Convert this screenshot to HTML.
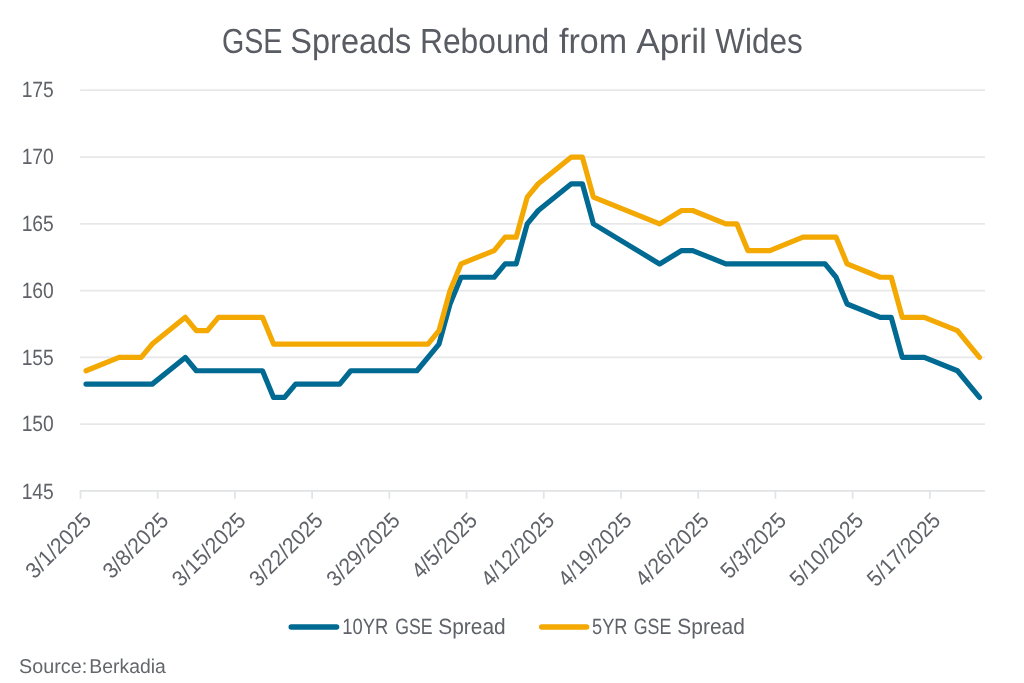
<!DOCTYPE html>
<html lang="en">
<head>
<meta charset="utf-8">
<title>GSE Spreads Rebound from April Wides</title>
<style>
html,body{margin:0;padding:0;background:#fff;}
body{width:1024px;height:683px;overflow:hidden;}
svg{display:block;will-change:transform;}
svg text{font-family:"Liberation Sans", sans-serif;fill:#5f6268;text-rendering:geometricPrecision;}
</style>
</head>
<body>
<svg width="1024" height="683" viewBox="0 0 1024 683">
<rect x="0" y="0" width="1024" height="683" fill="#ffffff"/>
<g font-size="34.80" style="fill:#595c62">
<text x="221.96" y="52.75" textLength="60.54" lengthAdjust="spacingAndGlyphs" style="fill:#595c62">GSE</text>
<text x="290.37" y="52.75" textLength="120.98" lengthAdjust="spacingAndGlyphs" style="fill:#595c62">Spreads</text>
<text x="419.93" y="52.75" textLength="129.16" lengthAdjust="spacingAndGlyphs" style="fill:#595c62">Rebound</text>
<text x="558.95" y="52.75" textLength="68.19" lengthAdjust="spacingAndGlyphs" style="fill:#595c62">from</text>
<text x="636.34" y="52.75" textLength="70.63" lengthAdjust="spacingAndGlyphs" style="fill:#595c62">April</text>
<text x="715.29" y="52.75" textLength="87.51" lengthAdjust="spacingAndGlyphs" style="fill:#595c62">Wides</text>
</g>
<g stroke="#e7e8ea" stroke-width="1.7" fill="none">
<line x1="80.1" y1="424.05" x2="985.0" y2="424.05"/>
<line x1="80.1" y1="357.40" x2="985.0" y2="357.40"/>
<line x1="80.1" y1="290.55" x2="985.0" y2="290.55"/>
<line x1="80.1" y1="223.80" x2="985.0" y2="223.80"/>
<line x1="80.1" y1="157.10" x2="985.0" y2="157.10"/>
<line x1="80.1" y1="90.10" x2="985.0" y2="90.10"/>
</g>
<g stroke="#e2e3e5" stroke-width="1.7" fill="none">
<line x1="79.7" y1="490.80" x2="985.0" y2="490.80"/>
<line x1="80.50" y1="490.80" x2="80.50" y2="498.80"/>
<line x1="157.71" y1="490.80" x2="157.71" y2="498.80"/>
<line x1="234.93" y1="490.80" x2="234.93" y2="498.80"/>
<line x1="312.14" y1="490.80" x2="312.14" y2="498.80"/>
<line x1="389.35" y1="490.80" x2="389.35" y2="498.80"/>
<line x1="466.57" y1="490.80" x2="466.57" y2="498.80"/>
<line x1="543.78" y1="490.80" x2="543.78" y2="498.80"/>
<line x1="620.99" y1="490.80" x2="620.99" y2="498.80"/>
<line x1="698.21" y1="490.80" x2="698.21" y2="498.80"/>
<line x1="775.42" y1="490.80" x2="775.42" y2="498.80"/>
<line x1="852.63" y1="490.80" x2="852.63" y2="498.80"/>
<line x1="929.85" y1="490.80" x2="929.85" y2="498.80"/>
</g>
<g font-size="22.10">
<text x="21.65" y="498.95" textLength="32.2" lengthAdjust="spacingAndGlyphs">145</text>
<text x="21.65" y="431.27" textLength="32.2" lengthAdjust="spacingAndGlyphs">150</text>
<text x="21.65" y="364.50" textLength="32.2" lengthAdjust="spacingAndGlyphs">155</text>
<text x="21.65" y="297.73" textLength="32.2" lengthAdjust="spacingAndGlyphs">160</text>
<text x="21.65" y="230.95" textLength="32.2" lengthAdjust="spacingAndGlyphs">165</text>
<text x="21.65" y="163.88" textLength="32.2" lengthAdjust="spacingAndGlyphs">170</text>
<text x="21.65" y="96.90" textLength="32.2" lengthAdjust="spacingAndGlyphs">175</text>
</g>
<g font-size="22.10" text-anchor="end">
<text transform="translate(92.50 521.80) rotate(-45)" x="0" y="0" textLength="82.0" lengthAdjust="spacingAndGlyphs">3/1/2025</text>
<text transform="translate(169.71 521.80) rotate(-45)" x="0" y="0" textLength="82.0" lengthAdjust="spacingAndGlyphs">3/8/2025</text>
<text transform="translate(246.93 521.80) rotate(-45)" x="0" y="0" textLength="93.2" lengthAdjust="spacingAndGlyphs">3/15/2025</text>
<text transform="translate(324.14 521.80) rotate(-45)" x="0" y="0" textLength="93.2" lengthAdjust="spacingAndGlyphs">3/22/2025</text>
<text transform="translate(401.35 521.80) rotate(-45)" x="0" y="0" textLength="93.2" lengthAdjust="spacingAndGlyphs">3/29/2025</text>
<text transform="translate(478.57 521.80) rotate(-45)" x="0" y="0" textLength="82.0" lengthAdjust="spacingAndGlyphs">4/5/2025</text>
<text transform="translate(555.78 521.80) rotate(-45)" x="0" y="0" textLength="93.2" lengthAdjust="spacingAndGlyphs">4/12/2025</text>
<text transform="translate(632.99 521.80) rotate(-45)" x="0" y="0" textLength="93.2" lengthAdjust="spacingAndGlyphs">4/19/2025</text>
<text transform="translate(710.21 521.80) rotate(-45)" x="0" y="0" textLength="93.2" lengthAdjust="spacingAndGlyphs">4/26/2025</text>
<text transform="translate(787.42 521.80) rotate(-45)" x="0" y="0" textLength="82.0" lengthAdjust="spacingAndGlyphs">5/3/2025</text>
<text transform="translate(864.63 521.80) rotate(-45)" x="0" y="0" textLength="93.2" lengthAdjust="spacingAndGlyphs">5/10/2025</text>
<text transform="translate(941.85 521.80) rotate(-45)" x="0" y="0" textLength="93.2" lengthAdjust="spacingAndGlyphs">5/17/2025</text>
</g>
<polyline points="86.02,384.11 152.20,384.11 185.29,357.40 196.32,370.75 262.50,370.75 273.53,397.46 284.56,397.46 295.59,384.11 339.72,384.11 350.75,370.75 416.93,370.75 438.99,344.04 450.02,303.98 461.05,277.27 494.14,277.27 505.17,263.91 516.20,263.91 527.23,223.85 538.27,210.50 571.36,183.78 582.39,183.78 593.42,223.85 659.60,263.91 681.66,250.56 692.69,250.56 725.78,263.91 825.06,263.91 836.09,277.27 847.12,303.98 880.21,317.33 891.24,317.33 902.27,357.40 924.33,357.40 957.42,370.75 979.48,397.46" fill="none" stroke="#016a92" stroke-width="5.2" stroke-linecap="round" stroke-linejoin="round"/>
<polyline points="86.02,370.75 119.11,357.40 141.17,357.40 152.20,344.04 185.29,317.33 196.32,330.69 207.35,330.69 218.38,317.33 262.50,317.33 273.53,344.04 427.96,344.04 438.99,330.69 450.02,290.62 461.05,263.91 494.14,250.56 505.17,237.20 516.20,237.20 527.23,197.14 538.27,183.78 571.36,157.08 582.39,157.08 593.42,197.14 659.60,223.85 681.66,210.50 692.69,210.50 725.78,223.85 736.81,223.85 747.84,250.56 769.91,250.56 803.00,237.20 836.09,237.20 847.12,263.91 880.21,277.27 891.24,277.27 902.27,317.33 924.33,317.33 957.42,330.69 979.48,357.40" fill="none" stroke="#f3a802" stroke-width="5.2" stroke-linecap="round" stroke-linejoin="round"/>
<line x1="291.2" y1="627.05" x2="336.6" y2="627.05" stroke="#016a92" stroke-width="5.4" stroke-linecap="round"/>
<line x1="541.7" y1="627.05" x2="586.6" y2="627.05" stroke="#f3a802" stroke-width="5.4" stroke-linecap="round"/>
<g font-size="22.10" style="fill:#5f6268">
<text x="342.32" y="634.35" textLength="46.07" lengthAdjust="spacingAndGlyphs" style="fill:#5f6268">10YR</text>
<text x="395.19" y="634.35" textLength="37.30" lengthAdjust="spacingAndGlyphs" style="fill:#5f6268">GSE</text>
<text x="438.32" y="634.35" textLength="67.34" lengthAdjust="spacingAndGlyphs" style="fill:#5f6268">Spread</text>
</g>
<g font-size="22.10" style="fill:#5f6268">
<text x="592.07" y="634.35" textLength="35.45" lengthAdjust="spacingAndGlyphs" style="fill:#5f6268">5YR</text>
<text x="633.72" y="634.35" textLength="37.58" lengthAdjust="spacingAndGlyphs" style="fill:#5f6268">GSE</text>
<text x="677.34" y="634.35" textLength="67.55" lengthAdjust="spacingAndGlyphs" style="fill:#5f6268">Spread</text>
</g>
<g font-size="19.90" style="fill:#63666c">
<text x="19.11" y="672.80" textLength="68.10" lengthAdjust="spacingAndGlyphs" style="fill:#63666c">Source:</text>
<text x="89.34" y="672.80" textLength="76.47" lengthAdjust="spacingAndGlyphs" style="fill:#63666c">Berkadia</text>
</g>
</svg>
</body>
</html>
